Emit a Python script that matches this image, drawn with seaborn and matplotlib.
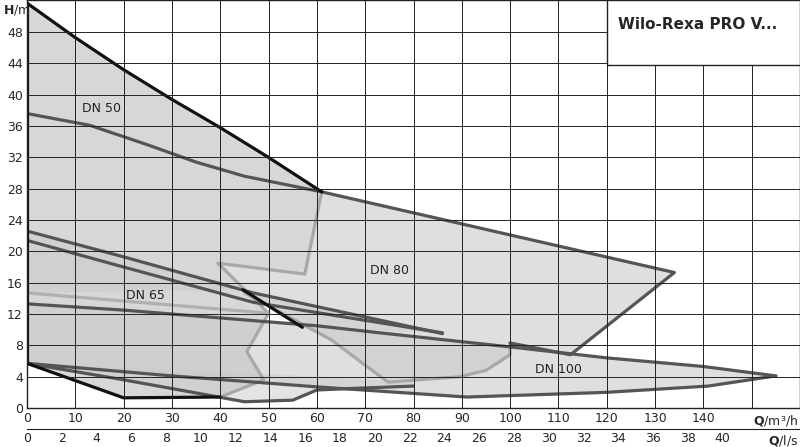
"""Wilo-Rexa PRO V pump range chart (H over Q)."""

import matplotlib
matplotlib.use("Agg")
import matplotlib.pyplot as plt
import pandas as pd
import seaborn as sns

# curves, (Q m3/h, H m)
top_q = [0, 10, 20, 30, 40, 50, 61]
top_h = [51.7, 47.3, 43.2, 39.4, 35.8, 32.0, 27.6]
dn50_q = [0, 13, 25, 35, 45, 61]
dn50_h = [37.6, 36.1, 33.6, 31.4, 29.6, 27.6]
dn80_q = [61, 134, 112.5, 100]
dn80_h = [27.6, 17.3, 6.8, 8.3]
light_q = [61, 57.5, 39.5, 50, 45.5, 49, 40]
light_h = [27.6, 17.1, 18.5, 12.1, 7.2, 3.6, 1.4]
light2_q = [45, 63, 74.7, 89.6, 95, 100, 100]
light2_h = [14.7, 8.7, 3.3, 4.0, 4.8, 6.8, 8.3]
light3_q = [0, 50]
light3_h = [14.7, 12.1]
dn65a_q = [0, 20, 46.8, 86]
dn65a_h = [22.6, 19.3, 14.7, 9.5]
dn65b_q = [0, 20, 46.8, 86]
dn65b_h = [21.4, 18.0, 13.5, 9.6]
blackseg_q = [44.7, 57]
blackseg_h = [15.1, 10.3]
dn100t_q = [0, 20, 40, 60, 73, 100, 120, 140, 155]
dn100t_h = [13.3, 12.5, 11.5, 10.5, 9.6, 7.8, 6.4, 5.3, 4.1]
dn100b_q = [0, 30, 60, 91, 120, 141, 155]
dn100b_h = [5.7, 4.1, 2.7, 1.4, 2.0, 2.8, 4.1]
low_q = [0, 20, 45, 55, 60, 67.5, 80]
low_h = [5.7, 3.6, 0.8, 1.0, 2.3, 2.5, 2.8]
bot_q = [0, 20, 40]
bot_h = [5.7, 1.3, 1.4]

labels = ["DN 50", "DN 80", "DN 65", "DN 100"]
label_q = [15.5, 75, 24.6, 110]
label_h = [38.3, 17.6, 14.4, 4.9]

q_ticks = list(range(0, 150, 10))
ls_ticks = list(range(0, 42, 2))
h_ticks = list(range(0, 52, 4))

sns.set_style("white")
fig = plt.figure(figsize=(8, 4.47), dpi=100)
ax = fig.add_axes([27 / 800, 39 / 447, 773 / 800, 408 / 447])
ax.set_xlim(0, 160)
ax.set_ylim(0, 52.1)

fill = "#c9cacc"
# DN 50 area
ax.fill(top_q + light_q[1:] + bot_q[::-1], top_h + light_h[1:] + bot_h[::-1], color=fill, alpha=0.75, lw=0)
# DN 80 area
ax.fill(dn80_q + light2_q[::-1] + [39.5, 57.5], dn80_h + light2_h[::-1] + [18.5, 17.1], color=fill, alpha=0.6, lw=0)
# DN 65 area
ax.fill(dn65a_q + [57, 44.7, 0], dn65a_h + [10.3, 15.1, 14.7], color=fill, alpha=0.5, lw=0)
# DN 100 area
ax.fill(dn100t_q + dn100b_q[::-1], dn100t_h + dn100b_h[::-1], color=fill, alpha=0.6, lw=0)
ax.fill(low_q + [80, 60, 30], low_h + [3.3, 4.0, 5.0], color=fill, alpha=0.5, lw=0)

lines = [
    (light_q, light_h, "#a8a8a8"), (light2_q, light2_h, "#a8a8a8"), (light3_q, light3_h, "#b0b0b0"),
    (dn50_q, dn50_h, "#555555"), (dn80_q, dn80_h, "#555555"),
    (dn65a_q, dn65a_h, "#555555"), (dn65b_q, dn65b_h, "#555555"),
    (dn100t_q, dn100t_h, "#555555"), (dn100b_q, dn100b_h, "#555555"), (low_q, low_h, "#555555"),
    (top_q, top_h, "#111111"), ([0, 0], [51.7, 5.7], "#111111"), (bot_q, bot_h, "#111111"),
    (blackseg_q, blackseg_h, "#111111"),
]
for q, h, c in lines:
    df = pd.DataFrame({"Q": q, "H": h})
    sns.lineplot(data=df, x="Q", y="H", sort=False, estimator=None, color=c, lw=2.3, ax=ax)

for t, q, h in zip(labels, label_q, label_h):
    ax.text(q, h, t, fontsize=9, ha="center", va="center", color="#222222")

ax.set_xticks(list(range(0, 160, 10)))
ax.set_yticks(h_ticks)
ax.grid(True, color="#222222", lw=0.7)
ax.set_axisbelow(False)
ax.set_xticklabels([str(t) if t in q_ticks else "" for t in range(0, 160, 10)], fontsize=9)
ax.set_yticklabels([str(t) for t in h_ticks], fontsize=9)
ax.tick_params(length=0, pad=3)
ax.set_xlabel("")
ax.set_ylabel("")
for s in ax.spines.values():
    s.set_color("#222222")
    s.set_linewidth(1.0)

sec = ax.secondary_xaxis(-0.052, functions=(lambda x: x / 3.6, lambda x: x * 3.6))
sec.set_xticks(ls_ticks)
sec.set_xticklabels([str(t) for t in ls_ticks], fontsize=9)
sec.tick_params(length=0, pad=2)
sec.spines["bottom"].set_color("#222222")

fig.text(798 / 800, 26 / 447, "$\\bf{Q}$/m³/h", ha="right", va="center", fontsize=9)
fig.text(798 / 800, 6 / 447, "$\\bf{Q}$/l/s", ha="right", va="center", fontsize=9)
fig.text(3 / 800, 437 / 447, "$\\bf{H}$/m", ha="left", va="center", fontsize=9)

box = plt.Rectangle((607 / 800, 382 / 447), 193 / 800, 65 / 447, transform=fig.transFigure,
                    facecolor="white", edgecolor="#222222", lw=1.0, zorder=5)
fig.add_artist(box)
fig.text(618 / 800, 418 / 447, "Wilo-Rexa PRO V...", fontsize=11, fontweight="bold", zorder=6)

fig.savefig("out.png", dpi=100)
